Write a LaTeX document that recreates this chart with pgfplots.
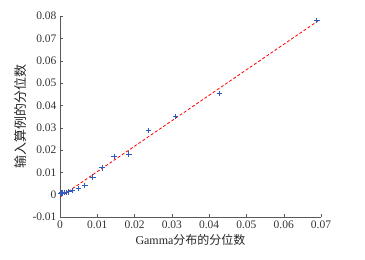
\documentclass[border=0pt]{standalone}
\usepackage{pgfplots}
\pgfplotsset{compat=1.18}
\usepackage{fontspec}
\setmainfont{Liberation Serif}
\newfontfamily\cjk{Noto Sans CJK SC}
\definecolor{ptblue}{RGB}{45,90,195}
\begin{document}
\begin{tikzpicture}
\begin{axis}[name=ax,
  scale only axis, width=261pt, height=201pt,
  xmin=0, xmax=0.07, ymin=-0.01, ymax=0.08,
  axis x line*=bottom, axis y line*=left,
  axis line style={gray!70!black, line width=0.5pt},
  xtick={0,0.01,...,0.07}, ytick={-0.01,0,0.01,...,0.08},
  tick style={gray!70!black, line width=0.4pt},
  major tick length=3pt,
  /pgf/number format/assume math mode=true,
  /pgf/number format/fixed, /pgf/number format/precision=2,
  scaled ticks=false,
  xticklabel style={font=\fontsize{11.5}{12}\selectfont, text=black!80},
  yticklabel style={font=\fontsize{11.5}{12}\selectfont, text=black!80},
  xlabel={Gamma{\cjk 分布的分位数}},
  ylabel={{\cjk 输入算例的分位数}},
  xlabel style={font=\fontsize{12}{13}\selectfont, text=black!85, yshift=1pt},
  ylabel style={font=\fontsize{13}{14}\selectfont, text=black!85, yshift=-1pt},
  clip=false,
]
\addplot[red, densely dashed, line width=0.8pt] coordinates {(0,-0.0011) (0.0692,0.0778)};
\addplot[only marks, mark=+, mark size=2.7pt, ptblue, line width=1pt] coordinates {
(0.0001,0.0005) (0.0003,0.0007) (0.0005,0.0008) (0.0008,0.0008) (0.0012,0.0009) (0.0018,0.0010)
(0.0024,0.0012) (0.0034,0.0019) (0.0050,0.0027) (0.0067,0.0040) (0.0088,0.0079)
(0.0113,0.0120) (0.0145,0.0172) (0.0185,0.0182) (0.0237,0.0288) (0.0310,0.0351)
(0.0427,0.0454) (0.0689,0.0779)
};
\end{axis}
\pgfresetboundingbox
\path (ax.south west) ++(-60pt,-43pt) rectangle ++(365pt,260pt);
\end{tikzpicture}
\end{document}
